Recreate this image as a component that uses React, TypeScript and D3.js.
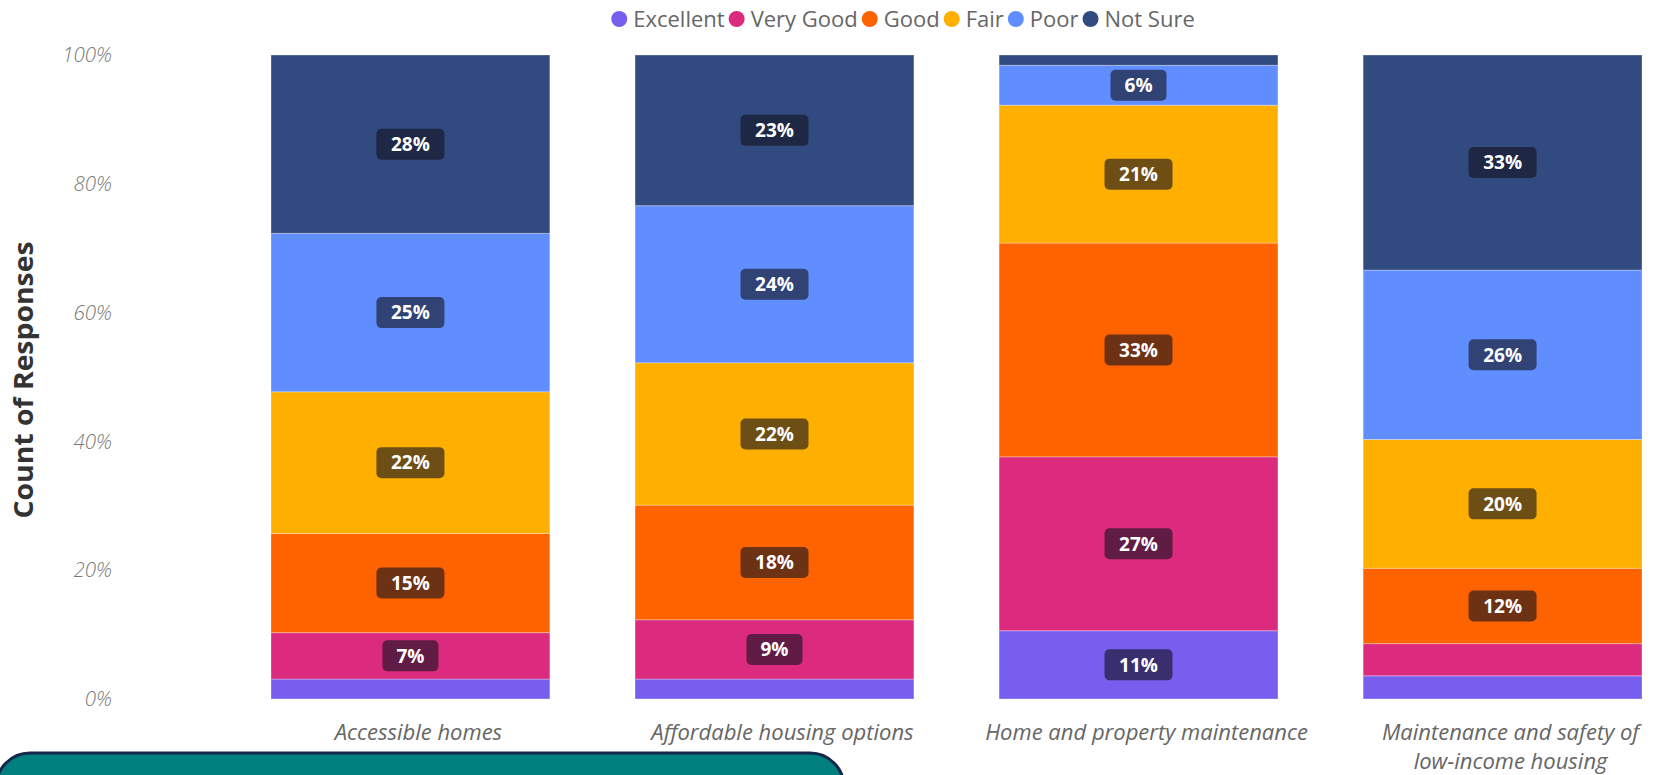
import React from "react";
import * as d3 from "d3";

// survey answers, share of responses (%)
const categories = [
  "Accessible homes",
  "Affordable housing options",
  "Home and property maintenance",
  "Maintenance and safety of low-income housing",
];
const ratings = ["Excellent", "Very Good", "Good", "Fair", "Poor", "Not Sure"];
const excellent = [3.1, 3.1, 10.6, 3.6];
const veryGood = [7.2, 9.2, 27.0, 5.0];
const good = [15.4, 17.8, 33.2, 11.7];
const fair = [22.0, 22.1, 21.4, 20.0];
const poor = [24.6, 24.4, 6.2, 26.3];
const notSure = [27.7, 23.4, 1.6, 33.4];
const yTicks = [0, 20, 40, 60, 80, 100];
const colors = ["#785EEE", "#DC2A7F", "#FF6300", "#FFAF00", "#618EFF", "#314A80"];

const W = 1658;
const H = 775;
const FONT = "'Segoe UI', 'Open Sans', 'Liberation Sans', sans-serif";

const measure = (() => {
  let ctx: CanvasRenderingContext2D | null = null;
  return (text: string, font: string) => {
    if (!ctx) ctx = document.createElement("canvas").getContext("2d");
    if (!ctx) return text.length * 10;
    ctx.font = font;
    return ctx.measureText(text).width;
  };
})();

const wrap = (s: string, max: number) => {
  const words = s.split(" ");
  const lines: string[] = [];
  let cur = "";
  words.forEach(w => {
    const next = cur ? cur + " " + w : w;
    if (next.length > max && cur) {
      lines.push(cur);
      cur = w;
    } else cur = next;
  });
  if (cur) lines.push(cur);
  return lines;
};

const App = () => {
  const series = [excellent, veryGood, good, fair, poor, notSure];
  const table = categories.map((c, i) => {
    const row: any = { category: c };
    ratings.forEach((r, j) => (row[r] = series[j][i]));
    return row;
  });
  const stacked = d3.stack().keys(ratings)(table);

  const x = d3
    .scaleBand()
    .domain(categories)
    .range([271, 1642])
    .paddingInner(0.234)
    .paddingOuter(0);
  const y = d3.scaleLinear().domain([0, 100]).range([699, 55]);
  const color = d3.scaleOrdinal<string, string>().domain(ratings).range(colors);

  // legend layout
  const legendFont = `22px ${FONT}`;
  let lx = 0;
  const legendItems = ratings.map(r => {
    const item = { r, x: lx };
    lx += 8 + 6 + measure(r, legendFont) + 12;
    return item;
  });
  const legendWidth = lx - 12;
  const legendStart = 899 - legendWidth / 2;

  return (
    <div style={{ position: "absolute", left: 0, top: 0 }}>
      <svg width={W} height={H} style={{ display: "block", background: "#fff" }}>
        {/* legend */}
        <g transform={`translate(${legendStart},19)`}>
          {legendItems.map(d => (
            <g key={d.r} transform={`translate(${d.x},0)`}>
              <circle cx={8} cy={0} r={8} fill={color(d.r)} />
              <text
                x={22}
                y={0}
                dy="0.35em"
                fill="#666"
                style={{ font: legendFont }}
              >
                {d.r}
              </text>
            </g>
          ))}
        </g>

        {/* y axis */}
        <text
          transform={`translate(33,380) rotate(-90)`}
          textAnchor="middle"
          fill="#333"
          fontFamily={FONT}
          fontWeight={700}
          fontSize={27}
          textLength={277}
          lengthAdjust="spacingAndGlyphs"
        >
          Count of Responses
        </text>
        {yTicks.map(t => (
          <text
            key={t}
            x={112}
            y={y(t)}
            dy="0.35em"
            textAnchor="end"
            fill="#7a7a7a"
            fontFamily={FONT}
            fontStyle="italic"
            fontWeight={300}
            fontSize={20.5}
          >
            {t}%
          </text>
        ))}

        {/* bars */}
        {stacked.map(layer => (
          <g key={layer.key}>
            {layer.map((d: any) => (
              <rect
                key={d.data.category}
                x={x(d.data.category)}
                y={y(d[1])}
                width={x.bandwidth()}
                height={y(d[0]) - y(d[1])}
                fill={color(layer.key)}
                stroke="rgba(255,255,255,0.3)"
                strokeWidth={1}
              />
            ))}
          </g>
        ))}

        {/* data labels */}
        {stacked.map(layer => (
          <g key={layer.key + "-lab"}>
            {layer.map((d: any) => {
              const v = d[1] - d[0];
              if (v < 5.5) return null;
              const label = d3.format(".0f")(v) + "%";
              const cx = (x(d.data.category) as number) + x.bandwidth() / 2;
              const cy = (y(d[0]) + y(d[1])) / 2;
              const w = label.length * 12 + 32;
              return (
                <g key={d.data.category} transform={`translate(${cx},${cy})`}>
                  <rect
                    x={-w / 2}
                    y={-15.5}
                    width={w}
                    height={31}
                    rx={5}
                    fill="rgba(20,20,32,0.62)"
                  />
                  <text
                    textAnchor="middle"
                    dy="0.36em"
                    fill="#fff"
                    fontFamily={FONT}
                    fontWeight={700}
                    fontSize={19}
                  >
                    {label}
                  </text>
                </g>
              );
            })}
          </g>
        ))}

        {/* x axis labels */}
        {categories.map(c => {
          const cx = (x(c) as number) + x.bandwidth() / 2 + 8;
          return (
            <text
              key={c}
              textAnchor="middle"
              fill="#666"
              fontFamily={FONT}
              fontStyle="italic"
              fontSize={22}
            >
              {wrap(c, 30).map((line, i) => (
                <tspan key={i} x={cx} y={740 + i * 29}>
                  {line}
                </tspan>
              ))}
            </text>
          );
        })}

        {/* teal panel at the bottom left */}
        <rect
          x={-4}
          y={753}
          width={848}
          height={80}
          rx={34}
          fill="#007F7F"
          stroke="#14284B"
          strokeWidth={3}
        />
      </svg>
    </div>
  );
};

export default App;
